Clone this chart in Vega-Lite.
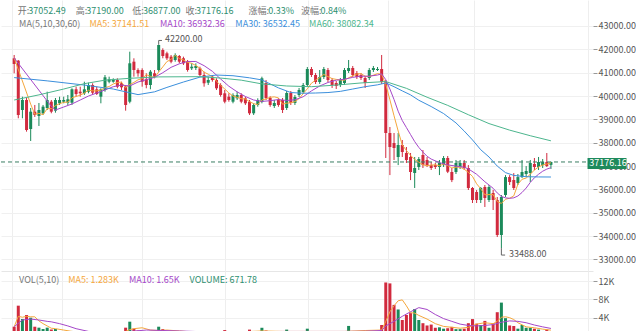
{
  "$schema": "https://vega.github.io/schema/vega-lite/v6.json",
  "padding": 0,
  "spacing": 0,
  "bounds": "flush",
  "background": "#ffffff",
  "config": {
    "view": {"stroke": null},
    "font": "Noto Sans CJK SC",
    "text": {"font": "Noto Sans CJK SC"},
    "axis": {"labelFont": "Noto Sans CJK SC", "labelFontSize": 9, "labelColor": "#555555", "gridColor": "#eeeeee", "title": null, "labelOverlap": false}
  },
  "datasets": {
    "candles": [
      {"i":0,"o":41617,"h":41758,"l":40974,"c":41373,"v":2030},
      {"i":1,"o":41514,"h":41544,"l":39047,"c":39189,"v":6630},
      {"i":2,"o":39402,"h":39972,"l":39047,"c":39831,"v":3720},
      {"i":3,"o":39831,"h":39916,"l":38474,"c":38546,"v":4590},
      {"i":4,"o":38589,"h":39488,"l":38075,"c":39330,"v":4000},
      {"i":5,"o":39330,"h":39617,"l":39103,"c":39189,"v":2030},
      {"i":6,"o":39146,"h":39702,"l":38717,"c":39402,"v":1820},
      {"i":7,"o":39261,"h":39617,"l":39189,"c":39544,"v":1530},
      {"i":8,"o":39488,"h":40186,"l":39402,"c":39831,"v":1820},
      {"i":9,"o":39758,"h":39831,"l":39261,"c":39330,"v":1420},
      {"i":10,"o":39373,"h":39916,"l":39287,"c":39831,"v":1530},
      {"i":11,"o":39689,"h":39972,"l":39617,"c":39831,"v":900},
      {"i":12,"o":39758,"h":39972,"l":39689,"c":39831,"v":800},
      {"i":13,"o":39715,"h":40045,"l":39617,"c":39860,"v":850},
      {"i":14,"o":39715,"h":40332,"l":39617,"c":40289,"v":1100},
      {"i":15,"o":40289,"h":40400,"l":39972,"c":40088,"v":800},
      {"i":16,"o":40186,"h":40400,"l":39972,"c":40117,"v":700},
      {"i":17,"o":40117,"h":40614,"l":40045,"c":40289,"v":750},
      {"i":18,"o":40186,"h":40571,"l":40117,"c":40473,"v":800},
      {"i":19,"o":40473,"h":40546,"l":40045,"c":40143,"v":750},
      {"i":20,"o":40289,"h":40400,"l":40045,"c":40088,"v":700},
      {"i":21,"o":39972,"h":40332,"l":39689,"c":40289,"v":800},
      {"i":22,"o":40259,"h":40901,"l":40186,"c":40803,"v":1000},
      {"i":23,"o":40614,"h":40829,"l":40546,"c":40717,"v":700},
      {"i":24,"o":40614,"h":40760,"l":40570,"c":40687,"v":650},
      {"i":25,"o":40687,"h":40760,"l":40332,"c":40400,"v":750},
      {"i":26,"o":40546,"h":40614,"l":40259,"c":40374,"v":800},
      {"i":27,"o":40400,"h":40473,"l":39373,"c":39617,"v":1820},
      {"i":28,"o":39758,"h":41899,"l":39689,"c":41402,"v":3130},
      {"i":29,"o":41471,"h":41617,"l":40829,"c":41115,"v":1600},
      {"i":30,"o":41115,"h":41188,"l":40829,"c":40974,"v":1200},
      {"i":31,"o":41115,"h":41188,"l":40400,"c":40614,"v":1000},
      {"i":32,"o":40717,"h":40974,"l":40332,"c":40473,"v":900},
      {"i":33,"o":40473,"h":41115,"l":40289,"c":41043,"v":1000},
      {"i":34,"o":40974,"h":41115,"l":40760,"c":40829,"v":800},
      {"i":35,"o":41115,"h":42200,"l":41043,"c":42186,"v":2030},
      {"i":36,"o":41972,"h":42044,"l":41617,"c":41715,"v":1500},
      {"i":37,"o":41830,"h":41899,"l":41544,"c":41617,"v":1000},
      {"i":38,"o":41686,"h":41758,"l":41402,"c":41471,"v":900},
      {"i":39,"o":41544,"h":41830,"l":41471,"c":41758,"v":800},
      {"i":40,"o":41715,"h":41758,"l":41402,"c":41471,"v":800},
      {"i":41,"o":41617,"h":41686,"l":41330,"c":41402,"v":750},
      {"i":42,"o":41471,"h":41544,"l":41043,"c":41115,"v":900},
      {"i":43,"o":41188,"h":41402,"l":41115,"c":41257,"v":600},
      {"i":44,"o":41201,"h":41400,"l":41115,"c":41287,"v":600},
      {"i":45,"o":41188,"h":41257,"l":40829,"c":40901,"v":800},
      {"i":46,"o":40901,"h":41043,"l":40400,"c":40546,"v":1000},
      {"i":47,"o":40571,"h":40829,"l":40473,"c":40687,"v":700},
      {"i":48,"o":40829,"h":40901,"l":40614,"c":40687,"v":700},
      {"i":49,"o":40687,"h":40760,"l":40259,"c":40332,"v":900},
      {"i":50,"o":40473,"h":40546,"l":39972,"c":40045,"v":1000},
      {"i":51,"o":40117,"h":40259,"l":39689,"c":39758,"v":1300},
      {"i":52,"o":39972,"h":40117,"l":39758,"c":39831,"v":800},
      {"i":53,"o":39758,"h":40117,"l":39689,"c":40045,"v":900},
      {"i":54,"o":39903,"h":40186,"l":39831,"c":40045,"v":700},
      {"i":55,"o":40045,"h":40117,"l":39689,"c":39758,"v":800},
      {"i":56,"o":39903,"h":39972,"l":39617,"c":39689,"v":900},
      {"i":57,"o":39758,"h":39831,"l":39189,"c":39261,"v":1400},
      {"i":58,"o":39261,"h":39689,"l":39189,"c":39617,"v":1000},
      {"i":59,"o":39617,"h":39903,"l":39544,"c":39831,"v":900},
      {"i":60,"o":39745,"h":40829,"l":39689,"c":40760,"v":1800},
      {"i":61,"o":40559,"h":40687,"l":39831,"c":39916,"v":1200},
      {"i":62,"o":39916,"h":39990,"l":39540,"c":39617,"v":900},
      {"i":63,"o":39574,"h":39831,"l":39490,"c":39702,"v":700},
      {"i":64,"o":39831,"h":39916,"l":39540,"c":39617,"v":800},
      {"i":65,"o":39831,"h":39916,"l":39274,"c":39402,"v":1000},
      {"i":66,"o":39488,"h":40216,"l":39402,"c":40130,"v":1400},
      {"i":67,"o":40130,"h":40216,"l":39617,"c":39702,"v":900},
      {"i":68,"o":39702,"h":40045,"l":39617,"c":39959,"v":800},
      {"i":69,"o":40045,"h":40345,"l":39959,"c":40259,"v":800},
      {"i":70,"o":40173,"h":40559,"l":40088,"c":40473,"v":900},
      {"i":71,"o":40473,"h":41244,"l":40388,"c":41158,"v":1600},
      {"i":72,"o":41158,"h":41244,"l":40816,"c":40901,"v":1000},
      {"i":73,"o":40901,"h":40987,"l":40516,"c":40601,"v":900},
      {"i":74,"o":40601,"h":41115,"l":40516,"c":40816,"v":800},
      {"i":75,"o":40816,"h":41244,"l":40730,"c":41158,"v":900},
      {"i":76,"o":41115,"h":41201,"l":40601,"c":40687,"v":900},
      {"i":77,"o":40687,"h":40773,"l":40345,"c":40473,"v":800},
      {"i":78,"o":40559,"h":40644,"l":40302,"c":40430,"v":700},
      {"i":79,"o":40473,"h":40773,"l":40388,"c":40687,"v":800},
      {"i":80,"o":40559,"h":41201,"l":40473,"c":41115,"v":1000},
      {"i":81,"o":41072,"h":41544,"l":40987,"c":41201,"v":2200},
      {"i":82,"o":41201,"h":41287,"l":40816,"c":40901,"v":1100},
      {"i":83,"o":40987,"h":41072,"l":40730,"c":40816,"v":900},
      {"i":84,"o":40901,"h":40987,"l":40687,"c":40773,"v":800},
      {"i":85,"o":40773,"h":40859,"l":40345,"c":40559,"v":1000},
      {"i":86,"o":40773,"h":41201,"l":40687,"c":41115,"v":1100},
      {"i":87,"o":41115,"h":41287,"l":41030,"c":41201,"v":800},
      {"i":88,"o":41115,"h":41244,"l":41072,"c":41158,"v":800},
      {"i":89,"o":41158,"h":41758,"l":40516,"c":40601,"v":2400},
      {"i":90,"o":40601,"h":40687,"l":37347,"c":38417,"v":11700},
      {"i":91,"o":38417,"h":38674,"l":36615,"c":37817,"v":11500},
      {"i":92,"o":37989,"h":38417,"l":37261,"c":37775,"v":6800},
      {"i":93,"o":37389,"h":38417,"l":37043,"c":37903,"v":5800},
      {"i":94,"o":37903,"h":38117,"l":37389,"c":37603,"v":3500},
      {"i":95,"o":37561,"h":37817,"l":37132,"c":37261,"v":4600},
      {"i":96,"o":37389,"h":37561,"l":36400,"c":36747,"v":5000},
      {"i":97,"o":36704,"h":37389,"l":36062,"c":36918,"v":5900},
      {"i":98,"o":36961,"h":37389,"l":36833,"c":37304,"v":3500},
      {"i":99,"o":37475,"h":37689,"l":36918,"c":37043,"v":2800},
      {"i":100,"o":37261,"h":37389,"l":36961,"c":37043,"v":2300},
      {"i":101,"o":37043,"h":37175,"l":36833,"c":36918,"v":2500},
      {"i":102,"o":37043,"h":37132,"l":36875,"c":36961,"v":1800},
      {"i":103,"o":36961,"h":37261,"l":36615,"c":37132,"v":1900},
      {"i":104,"o":37043,"h":37432,"l":36961,"c":37346,"v":1600},
      {"i":105,"o":37346,"h":37432,"l":36700,"c":36760,"v":1700},
      {"i":106,"o":36747,"h":36918,"l":36315,"c":36400,"v":2000},
      {"i":107,"o":36747,"h":37261,"l":36661,"c":37132,"v":1500},
      {"i":108,"o":36961,"h":37261,"l":36875,"c":37132,"v":1500},
      {"i":109,"o":37132,"h":37261,"l":36833,"c":36918,"v":1600},
      {"i":110,"o":36918,"h":37043,"l":35976,"c":36062,"v":2800},
      {"i":111,"o":36062,"h":36105,"l":35419,"c":35548,"v":3700},
      {"i":112,"o":35890,"h":35976,"l":35419,"c":35548,"v":2700},
      {"i":113,"o":35548,"h":36105,"l":35419,"c":36062,"v":2400},
      {"i":114,"o":36105,"h":36190,"l":35248,"c":35634,"v":3300},
      {"i":115,"o":35548,"h":36190,"l":35462,"c":36105,"v":1800},
      {"i":116,"o":35847,"h":35976,"l":35119,"c":35548,"v":2800},
      {"i":117,"o":35548,"h":35676,"l":33962,"c":34048,"v":5200},
      {"i":118,"o":34048,"h":35762,"l":33488,"c":35676,"v":7300},
      {"i":119,"o":35762,"h":36615,"l":35676,"c":36529,"v":3900},
      {"i":120,"o":36529,"h":36615,"l":36190,"c":36315,"v":2300},
      {"i":121,"o":36400,"h":36700,"l":35976,"c":36058,"v":2200},
      {"i":122,"o":36276,"h":36661,"l":36190,"c":36529,"v":1600},
      {"i":123,"o":36529,"h":37261,"l":36490,"c":36747,"v":2400},
      {"i":124,"o":36661,"h":37000,"l":36529,"c":36790,"v":1800},
      {"i":125,"o":36704,"h":37261,"l":36318,"c":37132,"v":1800},
      {"i":126,"o":37090,"h":37346,"l":36833,"c":36960,"v":1600},
      {"i":127,"o":36960,"h":37390,"l":36833,"c":37175,"v":1400},
      {"i":128,"o":37040,"h":37304,"l":36918,"c":37175,"v":1100},
      {"i":129,"o":37175,"h":37560,"l":36961,"c":37000,"v":1400},
      {"i":130,"o":37052.49,"h":37190,"l":36877,"c":37176.16,"v":671.78}
    ],
    "ma": [
      {"s":"MA5","i":0,"p":41629},{"s":"MA5","i":4,"p":39654},{"s":"MA5","i":5,"p":39217},{"s":"MA5","i":6,"p":39260},{"s":"MA5","i":7,"p":39202},{"s":"MA5","i":8,"p":39459},{"s":"MA5","i":9,"p":39459},{"s":"MA5","i":10,"p":39588},{"s":"MA5","i":11,"p":39673},{"s":"MA5","i":12,"p":39731},{"s":"MA5","i":13,"p":39737},{"s":"MA5","i":14,"p":39928},{"s":"MA5","i":15,"p":39980},{"s":"MA5","i":16,"p":40037},{"s":"MA5","i":17,"p":40129},{"s":"MA5","i":18,"p":40251},{"s":"MA5","i":19,"p":40222},{"s":"MA5","i":20,"p":40222},{"s":"MA5","i":21,"p":40256},{"s":"MA5","i":22,"p":40359},{"s":"MA5","i":23,"p":40408},{"s":"MA5","i":24,"p":40517},{"s":"MA5","i":25,"p":40579},{"s":"MA5","i":26,"p":40596},{"s":"MA5","i":27,"p":40359},{"s":"MA5","i":28,"p":40496},{"s":"MA5","i":29,"p":40582},{"s":"MA5","i":30,"p":40696},{"s":"MA5","i":31,"p":40744},{"s":"MA5","i":32,"p":40916},{"s":"MA5","i":33,"p":40844},{"s":"MA5","i":34,"p":40787},{"s":"MA5","i":35,"p":41029},{"s":"MA5","i":36,"p":41249},{"s":"MA5","i":37,"p":41478},{"s":"MA5","i":38,"p":41564},{"s":"MA5","i":39,"p":41749},{"s":"MA5","i":40,"p":41606},{"s":"MA5","i":41,"p":41544},{"s":"MA5","i":42,"p":41443},{"s":"MA5","i":43,"p":41401},{"s":"MA5","i":44,"p":41306},{"s":"MA5","i":45,"p":41192},{"s":"MA5","i":46,"p":41021},{"s":"MA5","i":47,"p":40936},{"s":"MA5","i":48,"p":40822},{"s":"MA5","i":49,"p":40631},{"s":"MA5","i":50,"p":40459},{"s":"MA5","i":51,"p":40302},{"s":"MA5","i":52,"p":40131},{"s":"MA5","i":53,"p":40002},{"s":"MA5","i":54,"p":39945},{"s":"MA5","i":55,"p":39887},{"s":"MA5","i":56,"p":39874},{"s":"MA5","i":57,"p":39760},{"s":"MA5","i":58,"p":39674},{"s":"MA5","i":59,"p":39631},{"s":"MA5","i":60,"p":39832},{"s":"MA5","i":61,"p":39877},{"s":"MA5","i":62,"p":39948},{"s":"MA5","i":63,"p":39965},{"s":"MA5","i":64,"p":39922},{"s":"MA5","i":65,"p":39651},{"s":"MA5","i":66,"p":39694},{"s":"MA5","i":67,"p":39711},{"s":"MA5","i":68,"p":39762},{"s":"MA5","i":69,"p":39890},{"s":"MA5","i":70,"p":40105},{"s":"MA5","i":71,"p":40310},{"s":"MA5","i":72,"p":40550},{"s":"MA5","i":73,"p":40678},{"s":"MA5","i":74,"p":40790},{"s":"MA5","i":75,"p":40927},{"s":"MA5","i":76,"p":40833},{"s":"MA5","i":77,"p":40747},{"s":"MA5","i":78,"p":40713},{"s":"MA5","i":79,"p":40687},{"s":"MA5","i":80,"p":40678},{"s":"MA5","i":81,"p":40781},{"s":"MA5","i":82,"p":40867},{"s":"MA5","i":83,"p":40944},{"s":"MA5","i":84,"p":40961},{"s":"MA5","i":85,"p":40850},{"s":"MA5","i":86,"p":40833},{"s":"MA5","i":87,"p":40893},{"s":"MA5","i":88,"p":40961},{"s":"MA5","i":89,"p":40927},{"s":"MA5","i":90,"p":40498},{"s":"MA5","i":91,"p":39839},{"s":"MA5","i":92,"p":39154},{"s":"MA5","i":93,"p":38503},{"s":"MA5","i":94,"p":37903},{"s":"MA5","i":95,"p":37672},{"s":"MA5","i":96,"p":37458},{"s":"MA5","i":97,"p":37286},{"s":"MA5","i":98,"p":37167},{"s":"MA5","i":99,"p":37055},{"s":"MA5","i":100,"p":37011},{"s":"MA5","i":101,"p":37045},{"s":"MA5","i":102,"p":37054},{"s":"MA5","i":103,"p":37019},{"s":"MA5","i":104,"p":37080},{"s":"MA5","i":105,"p":37023},{"s":"MA5","i":106,"p":36920},{"s":"MA5","i":107,"p":36954},{"s":"MA5","i":108,"p":36954},{"s":"MA5","i":109,"p":36868},{"s":"MA5","i":110,"p":36729},{"s":"MA5","i":111,"p":36558},{"s":"MA5","i":112,"p":36242},{"s":"MA5","i":113,"p":36028},{"s":"MA5","i":114,"p":35771},{"s":"MA5","i":115,"p":35779},{"s":"MA5","i":116,"p":35779},{"s":"MA5","i":117,"p":35479},{"s":"MA5","i":118,"p":35402},{"s":"MA5","i":119,"p":35581},{"s":"MA5","i":120,"p":35623},{"s":"MA5","i":121,"p":35725},{"s":"MA5","i":122,"p":36221},{"s":"MA5","i":123,"p":36436},{"s":"MA5","i":124,"p":36488},{"s":"MA5","i":125,"p":36651},{"s":"MA5","i":126,"p":36832},{"s":"MA5","i":127,"p":36961},{"s":"MA5","i":128,"p":37046},{"s":"MA5","i":129,"p":37088},{"s":"MA5","i":130,"p":37141.51},
      {"s":"MA10","i":0,"p":41629},{"s":"MA10","i":9,"p":39557},{"s":"MA10","i":10,"p":39402},{"s":"MA10","i":12,"p":39530},{"s":"MA10","i":14,"p":39660},{"s":"MA10","i":16,"p":39830},{"s":"MA10","i":18,"p":40000},{"s":"MA10","i":20,"p":40130},{"s":"MA10","i":22,"p":40260},{"s":"MA10","i":24,"p":40400},{"s":"MA10","i":26,"p":40470},{"s":"MA10","i":28,"p":40430},{"s":"MA10","i":30,"p":40600},{"s":"MA10","i":32,"p":40700},{"s":"MA10","i":34,"p":40800},{"s":"MA10","i":36,"p":41000},{"s":"MA10","i":38,"p":41230},{"s":"MA10","i":40,"p":41380},{"s":"MA10","i":42,"p":41480},{"s":"MA10","i":44,"p":41480},{"s":"MA10","i":46,"p":41300},{"s":"MA10","i":48,"p":41060},{"s":"MA10","i":50,"p":40730},{"s":"MA10","i":52,"p":40420},{"s":"MA10","i":54,"p":40180},{"s":"MA10","i":56,"p":39980},{"s":"MA10","i":58,"p":39830},{"s":"MA10","i":60,"p":39770},{"s":"MA10","i":62,"p":39800},{"s":"MA10","i":64,"p":39850},{"s":"MA10","i":66,"p":39810},{"s":"MA10","i":68,"p":39840},{"s":"MA10","i":70,"p":39970},{"s":"MA10","i":72,"p":40220},{"s":"MA10","i":74,"p":40430},{"s":"MA10","i":76,"p":40580},{"s":"MA10","i":78,"p":40680},{"s":"MA10","i":80,"p":40720},{"s":"MA10","i":82,"p":40800},{"s":"MA10","i":84,"p":40850},{"s":"MA10","i":86,"p":40850},{"s":"MA10","i":88,"p":40900},{"s":"MA10","i":89,"p":40950},{"s":"MA10","i":90,"p":40700},{"s":"MA10","i":91,"p":40300},{"s":"MA10","i":92,"p":39850},{"s":"MA10","i":93,"p":39350},{"s":"MA10","i":94,"p":38950},{"s":"MA10","i":95,"p":38650},{"s":"MA10","i":96,"p":38350},{"s":"MA10","i":97,"p":38050},{"s":"MA10","i":98,"p":37800},{"s":"MA10","i":99,"p":37600},{"s":"MA10","i":100,"p":37420},{"s":"MA10","i":101,"p":37300},{"s":"MA10","i":103,"p":37150},{"s":"MA10","i":105,"p":37050},{"s":"MA10","i":107,"p":37000},{"s":"MA10","i":109,"p":36950},{"s":"MA10","i":110,"p":36880},{"s":"MA10","i":112,"p":36650},{"s":"MA10","i":114,"p":36330},{"s":"MA10","i":116,"p":36050},{"s":"MA10","i":117,"p":35850},{"s":"MA10","i":118,"p":35700},{"s":"MA10","i":119,"p":35640},{"s":"MA10","i":120,"p":35620},{"s":"MA10","i":121,"p":35640},{"s":"MA10","i":122,"p":35720},{"s":"MA10","i":123,"p":35870},{"s":"MA10","i":124,"p":36060},{"s":"MA10","i":125,"p":36300},{"s":"MA10","i":126,"p":36500},{"s":"MA10","i":127,"p":36650},{"s":"MA10","i":128,"p":36780},{"s":"MA10","i":129,"p":36870},{"s":"MA10","i":130,"p":36932.36},
      {"s":"MA30","i":0,"p":40790},{"s":"MA30","i":8,"p":40650},{"s":"MA30","i":17,"p":40470},{"s":"MA30","i":24,"p":40300},{"s":"MA30","i":30,"p":40060},{"s":"MA30","i":34,"p":40180},{"s":"MA30","i":37,"p":40370},{"s":"MA30","i":41,"p":40600},{"s":"MA30","i":45,"p":40810},{"s":"MA30","i":49,"p":40900},{"s":"MA30","i":53,"p":40870},{"s":"MA30","i":57,"p":40780},{"s":"MA30","i":60,"p":40690},{"s":"MA30","i":64,"p":40350},{"s":"MA30","i":67,"p":40150},{"s":"MA30","i":70,"p":40120},{"s":"MA30","i":73,"p":40130},{"s":"MA30","i":76,"p":40150},{"s":"MA30","i":79,"p":40200},{"s":"MA30","i":82,"p":40300},{"s":"MA30","i":85,"p":40400},{"s":"MA30","i":88,"p":40480},{"s":"MA30","i":90,"p":40560},{"s":"MA30","i":92,"p":40400},{"s":"MA30","i":94,"p":40220},{"s":"MA30","i":96,"p":40050},{"s":"MA30","i":98,"p":39820},{"s":"MA30","i":101,"p":39550},{"s":"MA30","i":104,"p":39250},{"s":"MA30","i":107,"p":38850},{"s":"MA30","i":109,"p":38500},{"s":"MA30","i":111,"p":38120},{"s":"MA30","i":113,"p":37700},{"s":"MA30","i":115,"p":37390},{"s":"MA30","i":117,"p":37000},{"s":"MA30","i":119,"p":36720},{"s":"MA30","i":121,"p":36600},{"s":"MA30","i":124,"p":36545},{"s":"MA30","i":127,"p":36535},{"s":"MA30","i":130,"p":36532.45},
      {"s":"MA60","i":0,"p":39830},{"s":"MA60","i":6,"p":40050},{"s":"MA60","i":12,"p":40300},{"s":"MA60","i":17,"p":40530},{"s":"MA60","i":22,"p":40680},{"s":"MA60","i":28,"p":40760},{"s":"MA60","i":35,"p":40820},{"s":"MA60","i":45,"p":40830},{"s":"MA60","i":50,"p":40770},{"s":"MA60","i":55,"p":40680},{"s":"MA60","i":60,"p":40520},{"s":"MA60","i":66,"p":40430},{"s":"MA60","i":72,"p":40400},{"s":"MA60","i":78,"p":40470},{"s":"MA60","i":84,"p":40560},{"s":"MA60","i":90,"p":40620},{"s":"MA60","i":95,"p":40330},{"s":"MA60","i":100,"p":39950},{"s":"MA60","i":105,"p":39600},{"s":"MA60","i":110,"p":39200},{"s":"MA60","i":115,"p":38820},{"s":"MA60","i":120,"p":38540},{"s":"MA60","i":125,"p":38300},{"s":"MA60","i":130,"p":38082.34}
    ],
    "vma": [
      {"s":"MA5","i":0,"v":2030},{"s":"MA5","i":1,"v":4300},{"s":"MA5","i":2,"v":4100},{"s":"MA5","i":3,"v":4300},{"s":"MA5","i":4,"v":4200},{"s":"MA5","i":5,"v":4200},{"s":"MA5","i":6,"v":3300},{"s":"MA5","i":7,"v":2700},{"s":"MA5","i":8,"v":2200},{"s":"MA5","i":9,"v":1700},{"s":"MA5","i":10,"v":1600},{"s":"MA5","i":12,"v":1300},{"s":"MA5","i":14,"v":1000},{"s":"MA5","i":16,"v":850},{"s":"MA5","i":20,"v":760},{"s":"MA5","i":24,"v":780},{"s":"MA5","i":27,"v":1000},{"s":"MA5","i":28,"v":1400},{"s":"MA5","i":29,"v":1600},{"s":"MA5","i":31,"v":1800},{"s":"MA5","i":33,"v":1300},{"s":"MA5","i":35,"v":1200},{"s":"MA5","i":37,"v":1300},{"s":"MA5","i":40,"v":1100},{"s":"MA5","i":45,"v":750},{"s":"MA5","i":50,"v":850},{"s":"MA5","i":55,"v":900},{"s":"MA5","i":60,"v":1100},{"s":"MA5","i":65,"v":1000},{"s":"MA5","i":70,"v":1000},{"s":"MA5","i":75,"v":1000},{"s":"MA5","i":80,"v":1000},{"s":"MA5","i":85,"v":1200},{"s":"MA5","i":89,"v":1300},{"s":"MA5","i":90,"v":3200},{"s":"MA5","i":91,"v":5300},{"s":"MA5","i":92,"v":6600},{"s":"MA5","i":93,"v":7700},{"s":"MA5","i":94,"v":7900},{"s":"MA5","i":95,"v":6600},{"s":"MA5","i":96,"v":5100},{"s":"MA5","i":97,"v":5000},{"s":"MA5","i":98,"v":4500},{"s":"MA5","i":99,"v":4100},{"s":"MA5","i":100,"v":3700},{"s":"MA5","i":102,"v":2700},{"s":"MA5","i":104,"v":2100},{"s":"MA5","i":106,"v":1900},{"s":"MA5","i":108,"v":1700},{"s":"MA5","i":110,"v":1900},{"s":"MA5","i":112,"v":2600},{"s":"MA5","i":114,"v":2900},{"s":"MA5","i":116,"v":2700},{"s":"MA5","i":117,"v":3200},{"s":"MA5","i":118,"v":4100},{"s":"MA5","i":119,"v":4200},{"s":"MA5","i":120,"v":4000},{"s":"MA5","i":121,"v":3600},{"s":"MA5","i":122,"v":2900},{"s":"MA5","i":124,"v":2000},{"s":"MA5","i":126,"v":1800},{"s":"MA5","i":128,"v":1500},{"s":"MA5","i":130,"v":1283},
      {"s":"MA10","i":0,"v":2030},{"s":"MA10","i":2,"v":3500},{"s":"MA10","i":4,"v":3700},{"s":"MA10","i":6,"v":3500},{"s":"MA10","i":8,"v":3200},{"s":"MA10","i":9,"v":3100},{"s":"MA10","i":11,"v":2700},{"s":"MA10","i":13,"v":2200},{"s":"MA10","i":15,"v":1600},{"s":"MA10","i":18,"v":1000},{"s":"MA10","i":22,"v":800},{"s":"MA10","i":28,"v":1000},{"s":"MA10","i":32,"v":1300},{"s":"MA10","i":36,"v":1200},{"s":"MA10","i":40,"v":1100},{"s":"MA10","i":45,"v":950},{"s":"MA10","i":50,"v":850},{"s":"MA10","i":55,"v":850},{"s":"MA10","i":60,"v":950},{"s":"MA10","i":65,"v":1000},{"s":"MA10","i":70,"v":1000},{"s":"MA10","i":75,"v":1000},{"s":"MA10","i":80,"v":1000},{"s":"MA10","i":85,"v":1050},{"s":"MA10","i":89,"v":1200},{"s":"MA10","i":90,"v":2200},{"s":"MA10","i":92,"v":3200},{"s":"MA10","i":94,"v":4300},{"s":"MA10","i":96,"v":5300},{"s":"MA10","i":98,"v":6200},{"s":"MA10","i":100,"v":5800},{"s":"MA10","i":102,"v":4700},{"s":"MA10","i":104,"v":3800},{"s":"MA10","i":106,"v":3200},{"s":"MA10","i":108,"v":2600},{"s":"MA10","i":110,"v":2300},{"s":"MA10","i":112,"v":2200},{"s":"MA10","i":114,"v":2300},{"s":"MA10","i":116,"v":2500},{"s":"MA10","i":118,"v":3000},{"s":"MA10","i":120,"v":3300},{"s":"MA10","i":122,"v":3200},{"s":"MA10","i":124,"v":2900},{"s":"MA10","i":126,"v":2400},{"s":"MA10","i":128,"v":2000},{"s":"MA10","i":130,"v":1650}
    ],
    "plab": [
      {"i":0.88,"p":43642,"t":"开:","k":"lab"},
      {"i":3.43,"p":43642,"t":"37052.49","k":"val"},
      {"i":14.93,"p":43642,"t":"高:","k":"lab"},
      {"i":17.48,"p":43642,"t":"37190.00","k":"val"},
      {"i":28.57,"p":43642,"t":"低:","k":"lab"},
      {"i":31.19,"p":43642,"t":"36877.00","k":"val"},
      {"i":41.52,"p":43642,"t":"收:","k":"lab"},
      {"i":44.05,"p":43642,"t":"37176.16","k":"val"},
      {"i":56.76,"p":43642,"t":"涨幅:","k":"lab"},
      {"i":61.52,"p":43642,"t":"0.33%","k":"val"},
      {"i":69.45,"p":43642,"t":"波幅:","k":"lab"},
      {"i":74.21,"p":43642,"t":"0.84%","k":"val"},
      {"i":1.19,"p":43064,"t":"MA(5,10,30,60)","k":"lab"},
      {"i":18.26,"p":43064,"t":"MA5: 37141.51","k":"MA5"},
      {"i":35.33,"p":43064,"t":"MA10: 36932.36","k":"MA10"},
      {"i":53.57,"p":43064,"t":"MA30: 36532.45","k":"MA30"},
      {"i":71.43,"p":43064,"t":"MA60: 38082.34","k":"MA60"},
      {"i":36.52,"p":42443,"t":"42200.00","k":"ann"},
      {"i":119.86,"p":33235,"t":"33488.00","k":"ann"}
    ],
    "vlab": [
      {"i":1.19,"v":12242,"t":"VOL(5,10)","k":"lab"},
      {"i":13.1,"v":12242,"t":"MA5: 1.283K","k":"MA5"},
      {"i":27.79,"v":12242,"t":"MA10: 1.65K","k":"MA10"},
      {"i":42.48,"v":12242,"t":"VOLUME: 671.78","k":"val"}
    ],
    "mk": [
      {"i":35,"p":42200,"i2":35,"p2":42380},
      {"i":35,"p":42380,"i2":35.8,"p2":42380},
      {"i":118,"p":33488,"i2":118,"p2":33190},
      {"i":118,"p":33190,"i2":118.9,"p2":33190}
    ]
  },
  "vconcat": [
    {
      "width": 592,
      "height": 271,
      "layer": [
        {
          "data": {"name": "candles"},
          "mark": {"type": "rule", "strokeWidth": 1},
          "encoding": {
            "x": {"field": "i", "type": "quantitative", "scale": {"domain": [-1.976, 138.976], "nice": false, "zero": false},
                  "axis": {"values": [-0.55, 11.6, 30.9, 51.1, 71.1, 90.6, 111.4, 138.976], "tickCount": 30, "grid": true, "gridColor": "#eeeeee", "labels": false, "ticks": false, "domain": true, "domainColor": "#e6e6e6", "title": null}},
            "y": {"field": "l", "type": "quantitative", "scale": {"domain": [32507, 44113], "nice": false, "zero": false},
                  "axis": {"orient": "right", "values": [33000, 34000, 35000, 36000, 37000, 38000, 39000, 40000, 41000, 42000, 43000], "tickCount": 30, "format": ".2f", "grid": true, "gridColor": "#f0f0f0", "domain": false, "ticks": true, "tickSize": 4, "tickColor": "#999999", "labelPadding": 1, "labelFontSize": 9, "labelColor": "#555555", "labelOverlap": false, "title": null}},
            "y2": {"field": "h"},
            "color": {"condition": {"test": "datum.c >= datum.o", "value": "#1b8a5a"}, "value": "#d12a3e"}
          }
        },
        {
          "data": {"name": "candles"},
          "mark": {"type": "bar", "size": 3},
          "encoding": {
            "x": {"field": "i", "type": "quantitative"},
            "y": {"field": "o", "type": "quantitative"},
            "y2": {"field": "c"},
            "color": {"condition": {"test": "datum.c >= datum.o", "value": "#1b8a5a"}, "value": "#d12a3e"}
          }
        },
        {
          "data": {"values": [{}]},
          "mark": {"type": "rule", "strokeDash": [4, 3], "color": "#3a7d63", "strokeWidth": 1},
          "encoding": {"y": {"datum": 37176.16}}
        },
        {
          "data": {"name": "ma"},
          "mark": {"type": "line", "strokeWidth": 1},
          "encoding": {
            "x": {"field": "i", "type": "quantitative"},
            "y": {"field": "p", "type": "quantitative"},
            "detail": {"field": "s"},
            "color": {"field": "s", "type": "nominal", "legend": null,
                      "scale": {"domain": ["MA5", "MA10", "MA30", "MA60", "lab", "val", "ann"], "range": ["#f5a73c", "#a547c9", "#3b8fdc", "#4db68e", "#777777", "#2e8f70", "#555555"]}}
          }
        },
        {
          "data": {"name": "mk"},
          "mark": {"type": "rule", "color": "#666666", "strokeWidth": 1},
          "encoding": {
            "x": {"field": "i", "type": "quantitative"},
            "x2": {"field": "i2"},
            "y": {"field": "p", "type": "quantitative"},
            "y2": {"field": "p2"}
          }
        },
        {
          "data": {"name": "plab"},
          "mark": {"type": "text", "align": "left", "baseline": "middle", "fontSize": 9},
          "encoding": {
            "x": {"field": "i", "type": "quantitative"},
            "y": {"field": "p", "type": "quantitative"},
            "text": {"field": "t"},
            "color": {"field": "k", "type": "nominal", "legend": null}
          }
        },
        {
          "data": {"values": [{}]},
          "mark": {"type": "rect", "color": "#1e8a5c"},
          "encoding": {
            "x": {"datum": 138.86}, "x2": {"datum": 148.3},
            "y": {"datum": 37346}, "y2": {"datum": 36876}
          }
        },
        {
          "data": {"values": [{}]},
          "mark": {"type": "text", "align": "left", "baseline": "middle", "fontSize": 9, "color": "#ffffff", "text": "37176.16"},
          "encoding": {"x": {"datum": 139.3}, "y": {"datum": 37111}}
        }
      ]
    },
    {
      "width": 592,
      "height": 60,
      "layer": [
        {
          "data": {"name": "candles"},
          "mark": {"type": "bar", "size": 3, "clip": true},
          "encoding": {
            "x": {"field": "i", "type": "quantitative", "scale": {"domain": [-1.976, 138.976], "nice": false, "zero": false},
                  "axis": {"values": [-0.55, 11.6, 30.9, 51.1, 71.1, 90.6, 111.4, 138.976], "tickCount": 30, "grid": true, "gridColor": "#eeeeee", "labels": false, "ticks": false, "domain": false, "title": null}},
            "y": {"field": "v", "type": "quantitative", "scale": {"domain": [1093, 14209], "nice": false, "zero": false},
                  "axis": {"orient": "right", "values": [4000, 8000, 12000], "tickCount": 30, "labelExpr": "datum.value / 1000 + 'K'", "grid": true, "gridColor": "#f0f0f0", "domain": false, "ticks": true, "tickSize": 4, "tickColor": "#999999", "labelPadding": 1, "labelFontSize": 9, "labelColor": "#555555", "labelOverlap": false, "title": null}},
            "y2": {"datum": 0},
            "color": {"condition": {"test": "datum.c >= datum.o", "value": "#1b8a5a"}, "value": "#d12a3e"}
          }
        },
        {
          "data": {"name": "vma"},
          "mark": {"type": "line", "strokeWidth": 1, "clip": true},
          "encoding": {
            "x": {"field": "i", "type": "quantitative"},
            "y": {"field": "v", "type": "quantitative"},
            "detail": {"field": "s"},
            "color": {"field": "s", "type": "nominal", "legend": null,
                      "scale": {"domain": ["MA5", "MA10", "MA30", "MA60", "lab", "val", "ann"], "range": ["#f5a73c", "#a547c9", "#3b8fdc", "#4db68e", "#777777", "#2e8f70", "#555555"]}}
          }
        },
        {
          "data": {"name": "vlab"},
          "mark": {"type": "text", "align": "left", "baseline": "middle", "fontSize": 9},
          "encoding": {
            "x": {"field": "i", "type": "quantitative"},
            "y": {"field": "v", "type": "quantitative"},
            "text": {"field": "t"},
            "color": {"field": "k", "type": "nominal", "legend": null}
          }
        }
      ]
    }
  ]
}
